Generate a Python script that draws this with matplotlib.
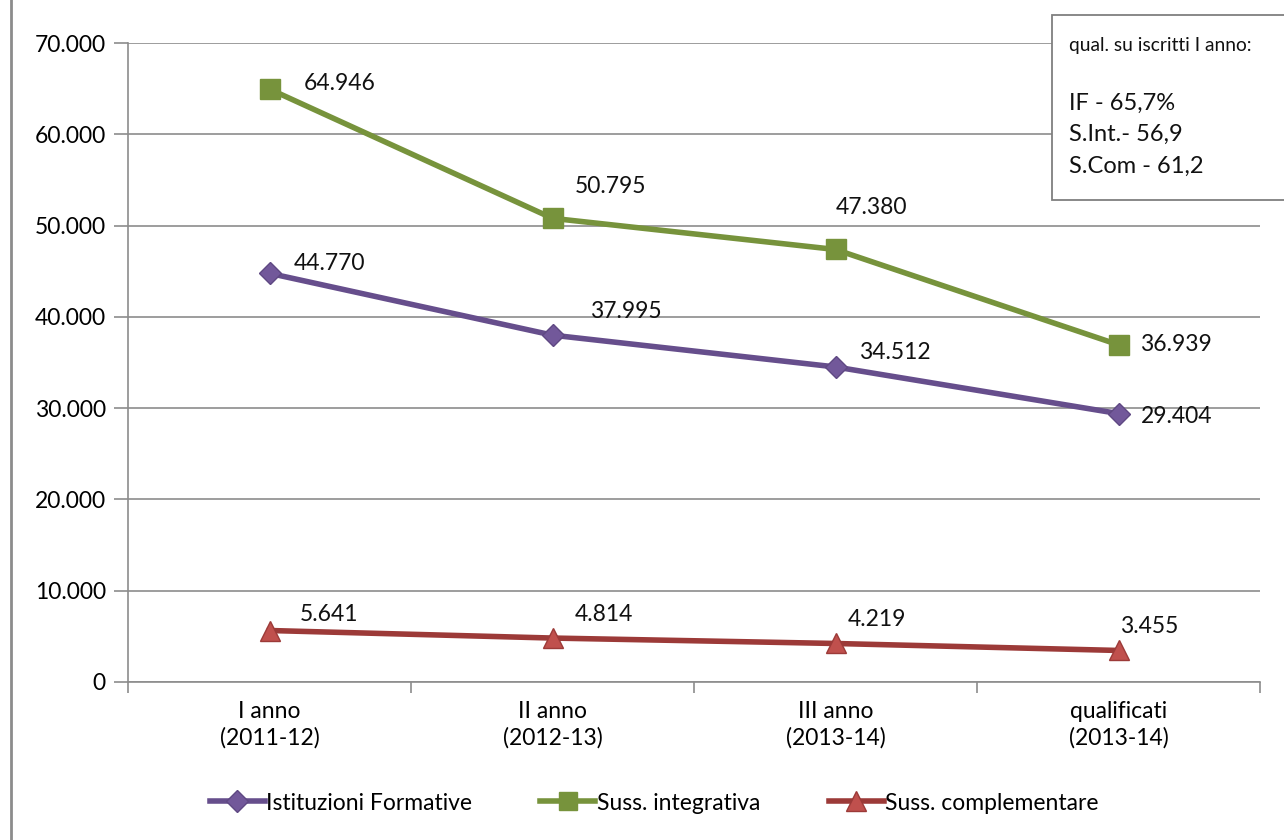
import matplotlib
matplotlib.use("Agg")
import matplotlib.pyplot as plt
from matplotlib.patches import Rectangle
from matplotlib.lines import Line2D

plt.rcParams['font.family'] = ['Lato', 'DejaVu Sans']

categories = ["I anno\n(2011-12)", "II anno\n(2012-13)", "III anno\n(2013-14)", "qualificati\n(2013-14)"]
istituzioni = [44770, 37995, 34512, 29404]
integrativa = [64946, 50795, 47380, 36939]
complementare = [5641, 4814, 4219, 3455]
series_names = ["Istituzioni Formative", "Suss. integrativa", "Suss. complementare"]
yticks = [0, 10000, 20000, 30000, 40000, 50000, 60000, 70000]
note_lines = ["qual. su iscritti I anno:", "", "IF - 65,7%", "S.Int.- 56,9", "S.Com - 61,2"]


def fmt(v):
    return f"{v:,}".replace(",", ".")


W, H = 1284, 840
FS = 16.5
fig = plt.figure(figsize=(W / 100, H / 100), dpi=100)
ax = fig.add_axes([128 / W, 1 - 682 / H, (1260 - 128) / W, (682 - 43) / H])

x = list(range(len(categories)))
grid_c = "#8c8c8c"

styles = [
    dict(color="#664e8c", marker="D", ms=11, mfc="#72589a", mec="#5f4883"),
    dict(color="#77933c", marker="s", ms=14, mfc="#77933c", mec="#77933c"),
    dict(color="#9c3a38", marker="^", ms=15, mfc="#c0504d", mec="#9c3a38"),
]
data = [istituzioni, integrativa, complementare]
for vals, st, name in zip(data, styles, series_names):
    ax.plot(x, vals, lw=4, label=name, zorder=3, **st)

# data labels, offsets in pixels from the marker
offsets = [
    [(24, 10), (38, 24), (24, 14), (22, -3)],
    [(34, 6), (22, 32), (0, 42), (22, 0)],
    [(30, 16), (22, 24), (12, 24), (2, 24)],
]
for vals, offs in zip(data, offsets):
    for xi, v, (dx, dy) in zip(x, vals, offs):
        ax.annotate(fmt(v), (xi, v), xytext=(dx, dy), textcoords="offset pixels",
                    ha="left", va="center", fontsize=FS, color="#111111", zorder=4)

ax.set_xlim(-0.5, len(categories) - 0.5)
ax.set_ylim(0, 70000)
ax.set_yticks(yticks)
ax.set_yticklabels([fmt(v) for v in yticks], fontsize=FS)
ax.yaxis.grid(True, color=grid_c, lw=1.2)
ax.set_axisbelow(True)

ax.set_xticks(x)
ax.set_xticklabels(categories, fontsize=FS, linespacing=1.25)
ax.tick_params(axis="x", length=0, pad=14)
ax.set_xticks([i - 0.5 for i in range(len(categories) + 1)], minor=True)
ax.tick_params(axis="x", which="minor", length=8, color=grid_c, width=1.2)
ax.tick_params(axis="y", length=10, color=grid_c, width=1.2, pad=6)

for s in ["top", "right"]:
    ax.spines[s].set_visible(False)
for s in ["left", "bottom"]:
    ax.spines[s].set_color(grid_c)
    ax.spines[s].set_linewidth(1.2)

handles = [Line2D([], [], lw=4, **st) for st in styles]
handles[0].set_markersize(11)
handles[1].set_markersize(13)
handles[2].set_markersize(15)
fig.legend(handles, series_names, loc="center", bbox_to_anchor=(654 / W, 1 - 803 / H),
           ncol=3, frameon=False, fontsize=FS, handlelength=2.4, handletextpad=0.05,
           columnspacing=3.0)

# note box at the upper right
fig.patches.append(Rectangle((1052 / W, 1 - 200 / H), 0.3, 185 / H, transform=fig.transFigure,
                             fill=True, facecolor="white", edgecolor="#7f7f7f", lw=1.3, zorder=5))
ys = [45, 74, 103, 134, 166]
for t, yy in zip(note_lines, ys):
    fig.text(1069 / W, 1 - yy / H, t, fontsize=17 if t != note_lines[0] else 13.8,
             va="center", ha="left", zorder=6, color="#111111")

# outer frame edge
fig.add_artist(Line2D([11 / W, 11 / W], [0, 1], transform=fig.transFigure, color="#8c8c8c", lw=2))

fig.savefig("out.png", dpi=100)
